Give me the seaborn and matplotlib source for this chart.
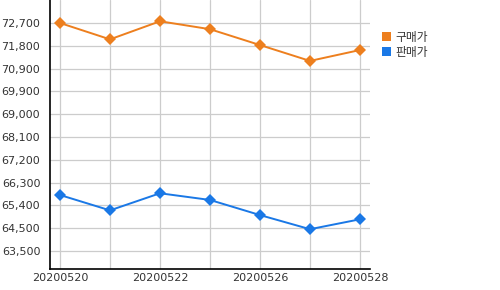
import numpy as np
import pandas as pd
import matplotlib
matplotlib.use("Agg")
import matplotlib.pyplot as plt
from matplotlib.patches import Patch
import seaborn as sns

dates = ["20200520", "20200521", "20200522", "20200525", "20200526", "20200527", "20200528"]
buy_price = [72700, 72040, 72770, 72450, 71810, 71170, 71610]
sell_price = [65760, 65140, 65830, 65560, 64950, 64380, 64780]
series_names = ["구매가", "판매가"]
ytick_labels = ["63,500", "64,500", "65,400", "66,300", "67,200", "68,100",
                "69,000", "69,900", "70,900", "71,800", "72,700"]
xtick_labels = ["20200520", "", "20200522", "", "20200526", "", "20200528"]

colors = {"구매가": "#ED7F1E", "판매가": "#1A78E6"}

df = pd.DataFrame({
    "date": dates * 2,
    "x": list(range(len(dates))) * 2,
    "price": buy_price + sell_price,
    "series": [series_names[0]] * len(dates) + [series_names[1]] * len(dates),
})

sns.set_theme(style="white")
plt.rcParams["font.family"] = ["DejaVu Sans", "Noto Sans CJK KR"]

fig = plt.figure(figsize=(5, 2.9), dpi=100)
ax = fig.add_axes([0.1, 0.0724, 0.64, 0.9276])

sns.lineplot(data=df, x="x", y="price", hue="series", palette=colors,
             marker="D", markersize=6.5, markeredgewidth=0, linewidth=1.4,
             legend=False, ax=ax, zorder=3)

ax.set_xlim(-0.2, 6.2)
ax.set_ylim(62774, 73628)
ax.set_xticks(range(len(dates)))
ax.set_xticklabels(xtick_labels)
ax.set_yticks(np.linspace(63500, 72700, len(ytick_labels)))
ax.set_yticklabels(ytick_labels)
ax.set_xlabel("")
ax.set_ylabel("")

ax.grid(True, color="#CCCCCC", linewidth=0.9, zorder=0)
ax.set_axisbelow(True)
for s in ["top", "right"]:
    ax.spines[s].set_visible(False)
for s in ["left", "bottom"]:
    ax.spines[s].set_color("black")
    ax.spines[s].set_linewidth(1.2)

ax.tick_params(axis="both", length=0, labelsize=8, colors="#333333")
ax.tick_params(axis="y", pad=7)
ax.tick_params(axis="x", pad=3)

handles = [Patch(facecolor=colors[n], edgecolor="none") for n in series_names]
leg = fig.legend(handles, series_names, loc="upper left", bbox_to_anchor=(0.752, 0.915),
                 frameon=False, borderpad=0, handlelength=0.8, handleheight=0.8,
                 handletextpad=0.35, labelspacing=0.2,
                 prop={"family": "Noto Sans CJK KR", "size": 8.5})
for t in leg.get_texts():
    t.set_color("#333333")

fig.savefig("out.png", dpi=100)
